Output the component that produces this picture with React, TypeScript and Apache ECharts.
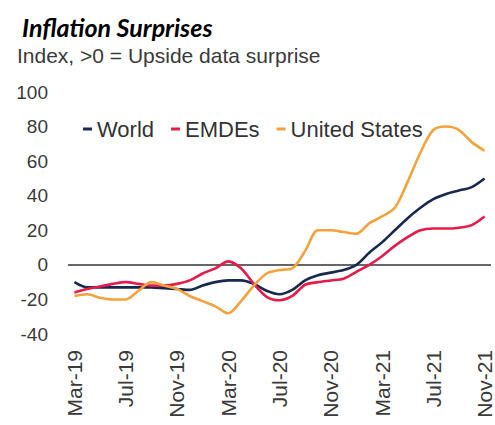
import React, { useEffect, useRef } from "react";
import * as echarts from "echarts";

const months = [
  "Mar-19", "Apr-19", "May-19", "Jun-19", "Jul-19", "Aug-19", "Sep-19", "Oct-19", "Nov-19", "Dec-19",
  "Jan-20", "Feb-20", "Mar-20", "Apr-20", "May-20", "Jun-20", "Jul-20", "Aug-20", "Sep-20", "Oct-20",
  "Nov-20", "Dec-20", "Jan-21", "Feb-21", "Mar-21", "Apr-21", "May-21", "Jun-21", "Jul-21", "Aug-21",
  "Sep-21", "Oct-21", "Nov-21",
];

const world = [
  -10, -13, -13, -13, -13, -13, -13, -13.5, -14, -14.5,
  -12, -10, -9, -9, -11, -15, -17, -14.5, -9, -6,
  -4.5, -3, 0, 7, 13, 20, 27, 33, 38, 41,
  43, 45, 50,
];

const emdes = [
  -16, -14, -12.5, -11, -10, -11, -12, -12, -11, -9,
  -5, -2, 2, -2, -11, -18.5, -20.5, -18, -11.5, -10,
  -9, -8, -4, 0, 5, 11, 16, 20, 21, 21,
  21.5, 23, 28,
];

const unitedStates = [
  -18, -17, -19, -20, -20, -15, -10, -12, -14, -18,
  -21, -24, -28, -21, -12, -5, -3, -2, 8, 20,
  20, 19, 18, 24, 28, 33, 48, 65, 78, 80,
  78, 71, 66,
];

const yTicks = { min: -40, max: 100, interval: 20 };

const seriesNames = ["World", "EMDEs", "United States"];
const seriesColors = ["#17294d", "#e51b4c", "#f3a23e"];

export default function App() {
  const ref = useRef<HTMLDivElement>(null);

  useEffect(() => {
    if (!ref.current) return;
    const chart = echarts.init(ref.current, undefined, { renderer: "svg" });
    const dataSets = [world, emdes, unitedStates];
    chart.setOption({
      animation: false,
      backgroundColor: "#ffffff",
      title: [
        {
          text: "Inflation Surprises",
          left: 17,
          top: 9,
          textStyle: {
            fontFamily: "Lato",
            fontStyle: "italic",
            fontWeight: "bold",
            fontSize: 25,
            color: "#000000",
          },
        },
        {
          text: "Index, >0 = Upside data surprise",
          left: 12,
          top: 40,
          textStyle: {
            fontFamily: "Liberation Sans",
            fontWeight: "normal",
            fontSize: 21,
            color: "#3a3a3a",
          },
        },
      ],
      legend: {
        left: 78,
        top: 113,
        itemWidth: 9,
        itemHeight: 3,
        itemGap: 17,
        icon: "rect",
        data: seriesNames,
        textStyle: {
          fontFamily: "Liberation Sans",
          fontSize: 22,
          color: "#333333",
        },
      },
      grid: { left: 68, right: 2, top: 92, bottom: 91 },
      xAxis: {
        type: "category",
        data: months,
        boundaryGap: true,
        axisLine: { show: false },
        axisTick: { show: false },
        axisLabel: {
          interval: 3,
          rotate: 90,
          margin: 16,
          fontFamily: "Liberation Sans",
          fontSize: 21,
          color: "#3a3a3a",
        },
      },
      yAxis: {
        type: "value",
        min: yTicks.min,
        max: yTicks.max,
        interval: yTicks.interval,
        splitLine: { show: false },
        axisLine: { show: false },
        axisTick: { show: false },
        axisLabel: {
          margin: 20,
          fontFamily: "Liberation Sans",
          fontSize: 19,
          color: "#3a3a3a",
        },
      },
      series: seriesNames.map((name, i) => ({
        name,
        type: "line",
        data: dataSets[i],
        smooth: 0.3,
        showSymbol: false,
        symbol: "none",
        lineStyle: { width: 2.6, color: seriesColors[i] },
        itemStyle: { color: seriesColors[i] },
        z: 3 + i,
        markLine:
          i === 0
            ? {
                silent: true,
                symbol: "none",
                label: { show: false },
                lineStyle: { color: "#333333", width: 1.6, type: "solid" },
                data: [{ yAxis: 0 }],
                z: 2,
              }
            : undefined,
      })),
    });
    return () => chart.dispose();
  }, []);

  return (
    <div
      ref={ref}
      style={{ position: "absolute", left: 0, top: 0, width: 495, height: 425 }}
    />
  );
}
